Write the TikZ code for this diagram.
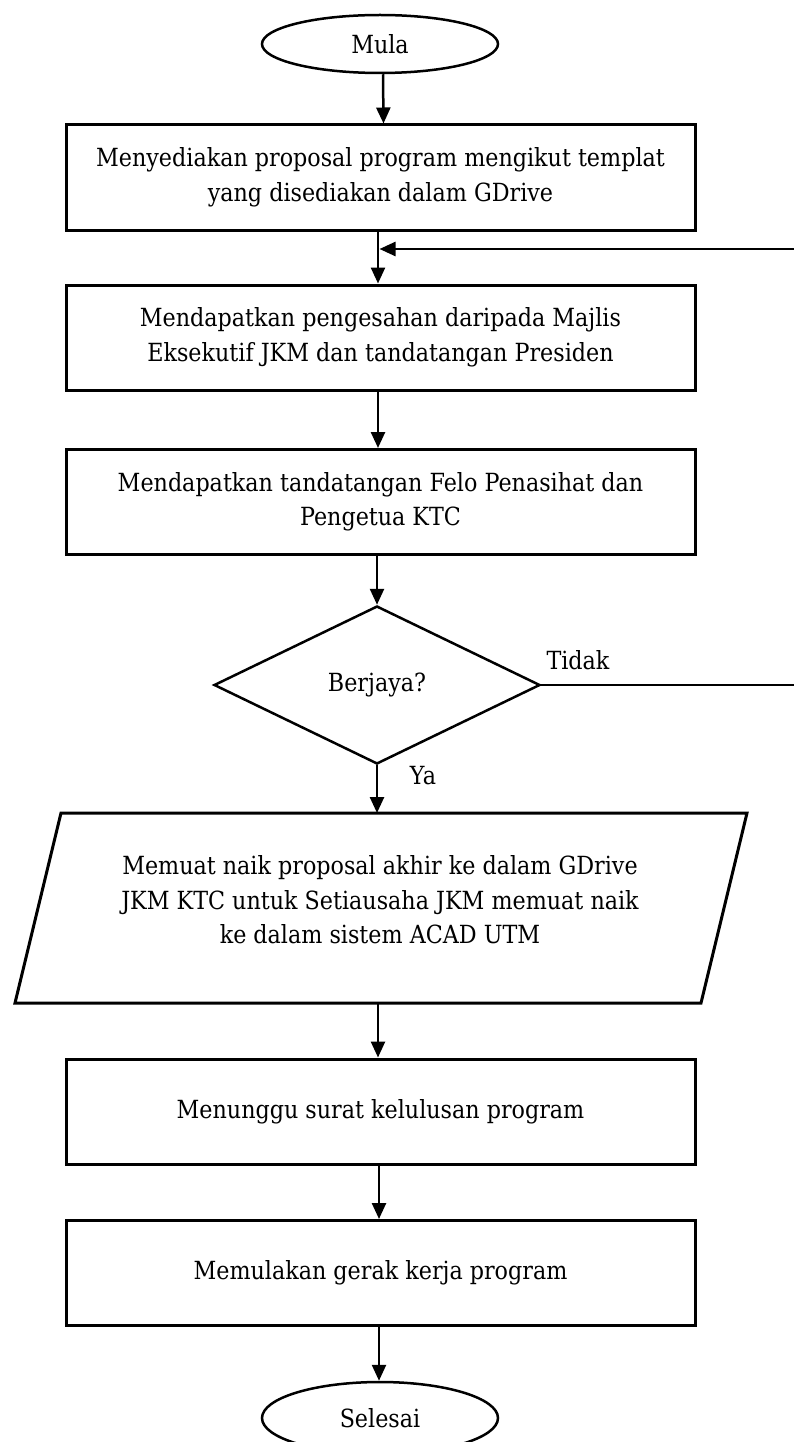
\documentclass[tikz,border=0pt]{standalone}
\usepackage{fontspec}
\setmainfont{DejaVu Serif}[FakeStretch=0.89]
\usetikzlibrary{shapes.geometric,arrows.meta}
\begin{document}
\begin{tikzpicture}[x=1pt,y=-1pt,
  every node/.style={font=\fontsize{25}{34.5}\selectfont},
  procbox/.style={draw,line width=3pt,minimum width=629pt,minimum height=105pt,inner sep=0pt,align=center},
  terminal/.style={draw,ellipse,line width=2.5pt,minimum width=236pt,minimum height=58pt,inner sep=0pt},
  decision/.style={draw,diamond,line width=2.5pt,minimum width=326pt,minimum height=158pt,inner sep=0pt},
  iobox/.style={line width=3pt},
  flow/.style={line width=2.5pt,-{Triangle[length=16pt,width=14pt]}},
  plainline/.style={line width=2.5pt}]
\useasboundingbox (0,0) rectangle (794,1442);

% terminals and process steps
\node[terminal] (start) at (380,44) {Mula};
\node[procbox] (b1) at (380.5,177.5) {Menyediakan proposal program mengikut templat\\yang disediakan dalam GDrive};
\node[procbox] (b2) at (380.5,337.5) {Mendapatkan pengesahan daripada Majlis\\Eksekutif JKM dan tandatangan Presiden};
\node[procbox] (b3) at (380.5,502) {Mendapatkan tandatangan Felo Penasihat dan\\Pengetua KTC};
\node[decision] (dec) at (377,685) {Berjaya?};

% input/output step
\coordinate (pTL) at (61,813);
\coordinate (pTR) at (747,813);
\coordinate (pBR) at (701,1003);
\coordinate (pBL) at (15,1003);
\draw[iobox] (pTL) -- (pTR) -- (pBR) -- (pBL) -- cycle;
\node[align=center,inner sep=0pt] (para) at (380,900) {Memuat naik proposal akhir ke dalam GDrive\\JKM KTC untuk Setiausaha JKM memuat naik\\ke dalam sistem ACAD UTM};
\coordinate (pTop) at (377,813);
\coordinate (pBot) at (378,1003);

\node[procbox] (b4) at (380.5,1111.5) {Menunggu surat kelulusan program};
\node[procbox] (b5) at (380.5,1273) {Memulakan gerak kerja program};
\node[terminal,minimum height=72pt] (stop) at (380,1418) {Selesai};

% main flow
\draw[flow] ([xshift=3pt]start.south) -- ([xshift=3pt]b1.north);
\draw[flow] ([xshift=-2.5pt]b1.south) -- ([xshift=-2.5pt]b2.north);
\draw[flow] ([xshift=-2.5pt]b2.south) -- ([xshift=-2.5pt]b3.north);
\draw[flow] ([xshift=-3.5pt]b3.south) -- (dec.north);
\draw[flow] (dec.south) -- (pTop);
\draw[flow] (pBot) -- ([xshift=-2.5pt]b4.north);
\draw[flow] ([xshift=-1.5pt]b4.south) -- ([xshift=-1.5pt]b5.north);
\draw[flow] ([xshift=-1.5pt]b5.south) -- ([xshift=-1pt]stop.north);

% loop back when not successful
\coordinate (loopOut) at (794,685);
\coordinate (loopIn) at (794,249);
\coordinate (join) at (379.5,249);
\draw[plainline] (dec.east) -- (loopOut);
\draw[flow] (loopIn) -- (join);

% branch labels
\node (tidak) at (578,660) {Tidak};
\node (ya) at (423,776) {Ya};
\end{tikzpicture}
\end{document}
